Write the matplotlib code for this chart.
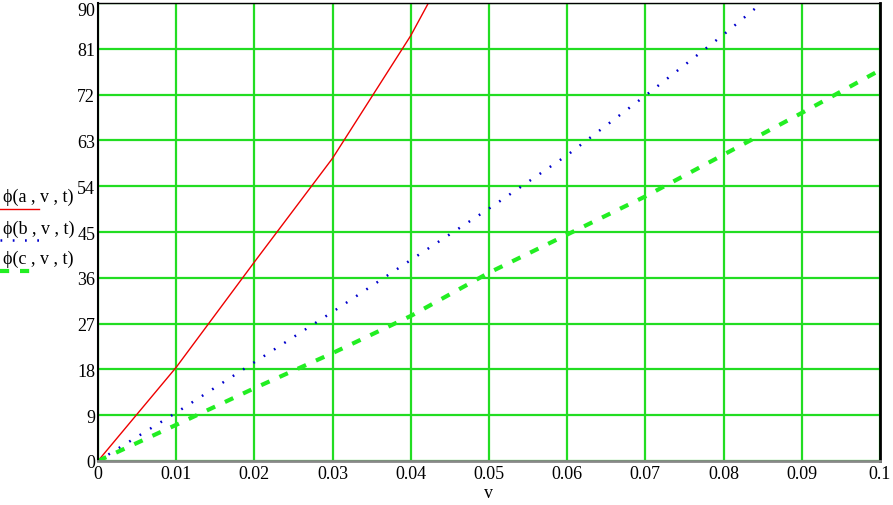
import matplotlib.pyplot as plt
from matplotlib.lines import Line2D
from matplotlib.transforms import ScaledTranslation

v = [0.0, 0.01, 0.02, 0.03, 0.04, 0.05, 0.06, 0.07, 0.08, 0.09, 0.1]
phi_a = [0.0, 18.4, 39.1, 59.5, 83.6, 112.0]
phi_b = [0.0, 9.5, 19.4, 29.3, 39.5, 49.6, 60.1, 71.8, 83.8, 96.5, 110.0]
phi_c = [0.0, 7.1, 14.3, 21.2, 28.5, 37.0, 44.5, 52.0, 60.2, 68.4, 76.8]

xticks = [0, 0.01, 0.02, 0.03, 0.04, 0.05, 0.06, 0.07, 0.08, 0.09, 0.1]
xlabels = ["0", "0.01", "0.02", "0.03", "0.04", "0.05", "0.06", "0.07", "0.08", "0.09", "0.1"]
yticks = [0, 9, 18, 27, 36, 45, 54, 63, 72, 81, 90]

plt.rcParams['font.family'] = ['Liberation Serif', 'DejaVu Serif']

fig = plt.figure(figsize=(8.93, 5.06), dpi=100)
ax = fig.add_axes([0.1097, 0.087, 0.8757, 0.905])

red = '#ee0000'
blue = '#0000cc'
green = '#22ee22'

ax.plot(v[:len(phi_a)], phi_a, color=red, lw=1.0)
ax.plot(v, phi_b, color=blue, lw=1.8, linestyle=(0, (0.7, 4.2)))
ax.plot(v, phi_c, color=green, lw=3.0, linestyle=(0, (2.2, 2.6)))

ax.set_xlim(0, 0.1)
ax.set_ylim(0, 90)
ax.set_xticks(xticks)
ax.set_xticklabels(xlabels)
ax.set_yticks(yticks)
ax.set_yticklabels([str(t) for t in yticks])
ax.tick_params(length=0, labelsize=13, pad=3)
ax.tick_params(axis='y', pad=2)
ax.grid(True, color='#22dd22', lw=1.6)
ax.set_axisbelow(True)

# keep the top label "90" inside the picture
top = ax.get_yticklabels()[-1]
top.set_transform(top.get_transform() + ScaledTranslation(0, -5 / 100, fig.dpi_scale_trans))

ax.spines['left'].set_color('black')
ax.spines['left'].set_linewidth(1.5)
ax.spines['right'].set_color('black')
ax.spines['right'].set_linewidth(2)
ax.spines['top'].set_color('black')
ax.spines['top'].set_linewidth(1)
ax.spines['bottom'].set_color('#888888')
ax.spines['bottom'].set_linewidth(2)

ax.set_xlabel("v", fontsize=13, labelpad=1)

# legend on the left side
fig.text(3 / 893, 1 - 197 / 506, "ϕ(a , v , t)", fontsize=13, va='center', ha='left')
fig.lines.append(Line2D([0, 39 / 893], [1 - 210 / 506] * 2, color=red, lw=1.0,
                        transform=fig.transFigure))
fig.text(3 / 893, 1 - 229 / 506, "ϕ(b , v , t)", fontsize=13, va='center', ha='left')
fig.lines.append(Line2D([0, 40 / 893], [1 - 241 / 506] * 2, color=blue, lw=1.8,
                        linestyle=(0, (0.7, 4.2)), transform=fig.transFigure))
fig.text(3 / 893, 1 - 259 / 506, "ϕ(c , v , t)", fontsize=13, va='center', ha='left')
fig.lines.append(Line2D([0, 38 / 893], [1 - 272 / 506] * 2, color=green, lw=3.0,
                        linestyle=(0, (2.2, 2.6)), transform=fig.transFigure))

fig.savefig("out.png", dpi=100)
